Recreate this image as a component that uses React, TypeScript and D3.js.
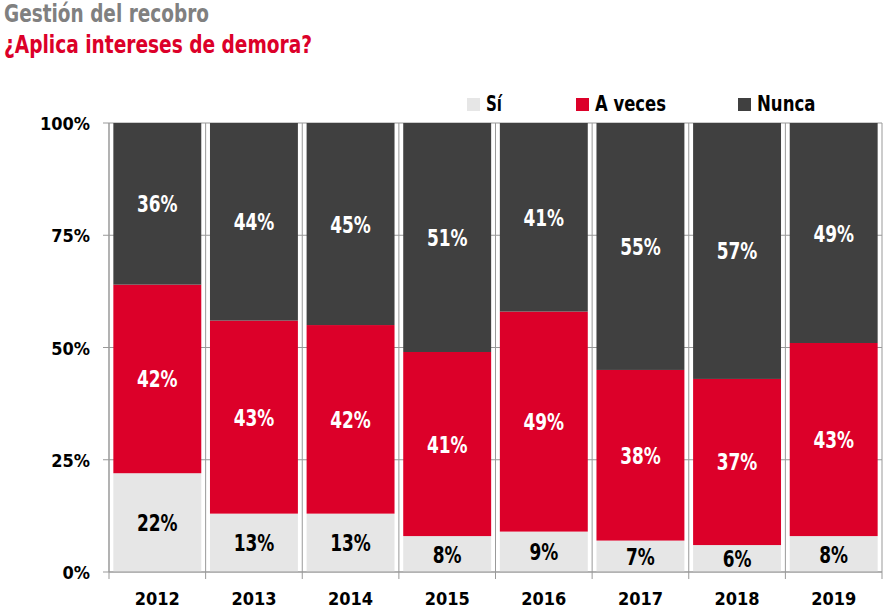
import React from "react";
import * as d3 from "d3";

const years = ["2012", "2013", "2014", "2015", "2016", "2017", "2018", "2019"];
const si = [22, 13, 13, 8, 9, 7, 6, 8];
const aVeces = [42, 43, 42, 41, 49, 38, 37, 43];
const nunca = [36, 44, 45, 51, 41, 55, 57, 49];
const yTicks = [0, 25, 50, 75, 100];
const seriesNames = ["Sí", "A veces", "Nunca"];
const seriesColors = ["#e6e6e6", "#dc0029", "#404040"];
const labelColors = ["#000000", "#ffffff", "#ffffff"];

const W = 889;
const H = 613;
const FONT = "'DejaVu Sans Condensed', 'Liberation Sans Narrow', 'Roboto', sans-serif";

export default function App() {
  const left = 109;
  const right = 882;
  const top = 123;
  const bottom = 572;
  const x = d3.scaleBand<string>().domain(years).range([left, right]).paddingInner(0.09).paddingOuter(0.045);
  const xBand = d3.scaleBand<string>().domain(years).range([left, right]).padding(0);
  const y = d3.scaleLinear().domain([0, 100]).range([bottom, top]);

  const rows = years.map((yr, i) => ({ year: yr, s0: si[i], s1: aVeces[i], s2: nunca[i] }));
  const stack = d3.stack<any>().keys(["s0", "s1", "s2"]);
  const stacked = stack(rows);
  // the last segment fills the bar up to 100% (rounded shares)
  const segTop = (li: number, v: number) => (li === 2 ? 100 : v);

  const legendX = [467, 576, 738];
  const legendLen = [16, 71, 58.5];

  return (
    <svg width={W} height={H} style={{ position: "absolute", left: 0, top: 0, background: "#fff" }} fontFamily={FONT}>
      <text x={4} y={22} fontSize={24} fontWeight="bold" fill="#808080" textLength={205} lengthAdjust="spacingAndGlyphs">Gestión del recobro</text>
      <text x={4} y={53} fontSize={24} fontWeight="bold" fill="#dc0029" textLength={308} lengthAdjust="spacingAndGlyphs">¿Aplica intereses de demora?</text>

      {seriesNames.map((n, i) => (
        <g key={n}>
          <rect x={legendX[i]} y={98} width={13} height={13} fill={seriesColors[i]} />
          <text x={legendX[i] + 19} y={111} fontSize={21} fontWeight="bold" fill="#000" textLength={legendLen[i]} lengthAdjust="spacingAndGlyphs">{n}</text>
        </g>
      ))}

      {/* gridlines */}
      {yTicks.map((t) => (
        <line key={t} x1={left - 6} x2={right} y1={y(t)} y2={y(t)} stroke="#999" strokeWidth={1} />
      ))}
      {yTicks.map((t) => (
        <text key={"l" + t} x={90} y={y(t) + 7} textAnchor="end" fontSize={18} fontWeight="bold" fill="#000">{t}%</text>
      ))}

      {/* separators */}
      {years.map((yr) => (
        <line key={"s" + yr} x1={xBand(yr)!} x2={xBand(yr)!} y1={top} y2={bottom + 7} stroke="#999" strokeWidth={1} />
      ))}
      <line x1={right} x2={right} y1={top} y2={bottom + 7} stroke="#999" strokeWidth={1} />

      {stacked.map((layer, li) => (
        <g key={li}>
          {layer.map((d, i) => (
            <rect key={i} x={x(years[i])!} width={x.bandwidth()} y={y(segTop(li, d[1]))} height={y(d[0]) - y(segTop(li, d[1]))} fill={seriesColors[li]} />
          ))}
        </g>
      ))}

      <line x1={left} x2={right} y1={bottom} y2={bottom} stroke="#999" strokeWidth={1} />
      <line x1={left} x2={left} y1={top} y2={bottom} stroke="#999" strokeWidth={1} />

      {stacked.map((layer, li) => (
        <g key={"t" + li}>
          {layer.map((d, i) => {
            const cx = x(years[i])! + x.bandwidth() / 2;
            const cy = (y(d[0]) + y(segTop(li, d[1]))) / 2 + 8.5;
            return (
              <text key={i} transform={`translate(${cx},${cy}) scale(0.82,1)`} textAnchor="middle" fontSize={23} fontWeight="bold" fill={labelColors[li]}>
                {d[1] - d[0]}%
              </text>
            );
          })}
        </g>
      ))}

      {years.map((yr) => (
        <text key={"x" + yr} x={xBand(yr)! + xBand.bandwidth() / 2} y={605} textAnchor="middle" fontSize={18} fontWeight="bold" fill="#000">{yr}</text>
      ))}
    </svg>
  );
}
